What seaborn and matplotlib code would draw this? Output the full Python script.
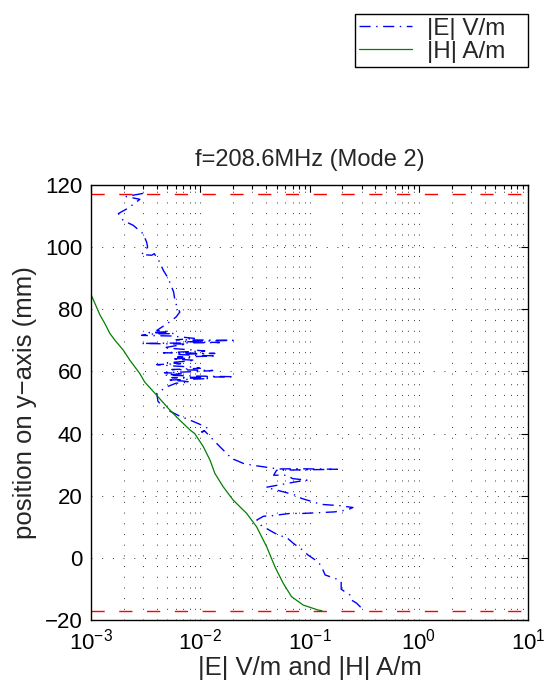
import numpy as np
import matplotlib
matplotlib.use("Agg")
import matplotlib.pyplot as plt
from matplotlib.ticker import LogLocator, FixedLocator, NullFormatter
import seaborn as sns

# |E| along the y-axis (mm) and its magnitude in V/m, in path order
e_pos = [117.3, 116.3, 115.4, 112.6, 110.8, 108.6, 107.0, 104.3, 101.6, 100.0,
         97.6, 97.4, 97.9, 96.5, 95.5, 92.5, 89.9, 85.6, 82.3, 80.0, 79.1, 77.5,
         75.2, 73.2, 72.8, 72.5, 72.2, 72.0, 71.6, 71.4, 70.6, 70.2, 70.0, 69.6,
         69.3, 69.0, 68.8, 68.2, 67.6, 67.2, 66.6, 66.0, 65.8, 65.5, 65.2, 65.0,
         64.6, 64.3, 64.0, 63.6, 63.2, 62.8, 62.5, 62.2, 61.8, 61.4, 61.0, 60.6,
         60.3, 60.0, 59.6, 59.3, 58.8, 58.5, 58.3, 58.0, 57.7, 57.2, 56.9, 56.6,
         56.2, 55.0, 52.9, 50.4, 48.1, 46.5, 45.6, 44.3, 43.0, 41.6, 40.5, 40.8,
         37.9, 35.7, 34.1, 32.0, 30.4, 29.8, 29.3, 28.6, 28.7, 28.5, 28.2, 26.6,
         26.6, 25.5, 25.0, 24.5, 22.7, 21.3, 20.2, 19.1, 17.2, 16.8, 16.2, 15.4,
         14.8, 14.6, 14.3, 14.3, 13.5, 13.4, 12.2, 11.1, 10.5, 8.7, 7.3, 6.5, 4.7,
         2.7, 0.9, -1.3, -2.9, -5.5, -6.8, -7.7, -10.1, -12.0, -13.6, -14.6,
         -16.2, -17.0]
e_mag = [0.0030, 0.0021, 0.0028, 0.0022, 0.00178, 0.00197, 0.00244, 0.0030, 0.00323, 0.0033,
         0.0029, 0.0036, 0.0038, 0.0040, 0.0042, 0.0046, 0.0051, 0.0057, 0.0059, 0.0063, 0.0065, 0.0060,
         0.0049, 0.0040, 0.0052, 0.0034, 0.0058, 0.0035, 0.0029, 0.0055, 0.0090, 0.0060, 0.0200, 0.0070,
         0.0150, 0.0029, 0.0075, 0.0058, 0.0046, 0.0065, 0.0110, 0.0046, 0.0136, 0.0060, 0.0086, 0.0140,
         0.0062, 0.0081, 0.0055, 0.0090, 0.0070, 0.0050, 0.0066, 0.0040, 0.0055, 0.0085, 0.0100, 0.0055,
         0.0130, 0.0100, 0.0047, 0.0070, 0.0048, 0.0095, 0.0204, 0.0055, 0.0120, 0.0050, 0.0070, 0.0080,
         0.0060, 0.0049, 0.0040, 0.0041, 0.0047, 0.0058, 0.0065, 0.0081, 0.0099, 0.0119, 0.0103, 0.0110,
         0.0132, 0.0152, 0.0169, 0.0194, 0.0248, 0.0303, 0.038, 0.052, 0.076, 0.180, 0.050, 0.047,
         0.062, 0.070, 0.095, 0.076, 0.040, 0.057, 0.074, 0.085, 0.129, 0.190, 0.250, 0.220,
         0.170, 0.133, 0.0875, 0.0664, 0.0437, 0.038, 0.033, 0.035, 0.036, 0.044, 0.052, 0.062, 0.071,
         0.085, 0.097, 0.120, 0.129, 0.139, 0.177, 0.195, 0.195, 0.235, 0.243, 0.270,
         0.300, 0.310]

# |H| along the y-axis (mm) and its magnitude in A/m
h_pos = [85.5, 78.1, 75.4, 72.2, 70.0, 66.8, 63.6, 59.3, 56.6, 52.3, 48.1, 44.3, 41.1,
         40.0, 35.7, 31.4, 27.2, 22.9, 18.6, 14.3, 10.0, 3.6, -2.9, -8.2, -12.5, -15.2,
         -16.8, -17.0]
h_mag = [0.00098, 0.00121, 0.00134, 0.00149, 0.00166, 0.00198, 0.00227, 0.0028, 0.0031,
         0.0040, 0.0051, 0.0065, 0.0081, 0.0089, 0.0107, 0.0123, 0.0136, 0.0162, 0.0200,
         0.0266, 0.0328, 0.0405, 0.0483, 0.0575, 0.0685, 0.0877, 0.120, 0.130]

# structure boundaries (mm)
boundaries = [117, -17]

y_ticks = [-20, 0, 20, 40, 60, 80, 100, 120]
x_limits = [1e-3, 1e1]

sns.set_theme(style="white")
plt.rcParams["font.family"] = ["Liberation Sans", "DejaVu Sans"]
plt.rcParams["mathtext.fontset"] = "custom"
plt.rcParams["mathtext.rm"] = "Liberation Sans"
plt.rcParams["mathtext.it"] = "Liberation Sans:italic"
plt.rcParams["mathtext.bf"] = "Liberation Sans:bold"

TICK_FS = 16
LABEL_FS = 18.5
TITLE_FS = 17
LEGEND_FS = 17.5

fig = plt.figure(figsize=(5.51, 6.94), dpi=100)
ax = fig.add_axes([91 / 551, 1 - 620 / 694, (528 - 91) / 551, (620 - 185) / 694])

sns.lineplot(x=e_mag, y=e_pos, sort=False, estimator=None, color=(0, 0, 1),
             linewidth=1.0, ax=ax, label="|E| V/m")
ax.lines[-1].set_dashes((8, 4, 1, 4))
sns.lineplot(x=h_mag, y=h_pos, sort=False, estimator=None, color=(0, 0.5, 0),
             linewidth=0.9, ax=ax, label="|H| A/m")

for b in boundaries:
    ax.axhline(b, color=(1, 0, 0), linewidth=1.0, dashes=(9.5, 10.5), zorder=1)

ax.set_xscale("log")
ax.set_xlim(*x_limits)
ax.set_ylim(-20, 120)
ax.yaxis.set_major_locator(FixedLocator(y_ticks))
ax.xaxis.set_major_locator(LogLocator(base=10, numticks=10))
ax.xaxis.set_minor_locator(LogLocator(base=10, subs=np.arange(2, 10), numticks=20))
ax.xaxis.set_minor_formatter(NullFormatter())

grid_kw = dict(color="black", linewidth=0.7, linestyle=(0, (1, 10)), alpha=0.8)
ax.grid(True, which="major", axis="both", **grid_kw)
ax.grid(True, which="minor", axis="x", **grid_kw)
ax.set_axisbelow(True)

ax.tick_params(axis="both", which="both", direction="in", top=True, right=True,
               labelsize=TICK_FS, colors="black", width=0.8)
ax.tick_params(axis="both", which="major", length=5, pad=6)
ax.tick_params(axis="x", which="minor", length=3)
for s in ax.spines.values():
    s.set_color("black")
    s.set_linewidth(1.0)

ax.set_title("f=208.6MHz (Mode 2)", fontsize=TITLE_FS, pad=14)
ax.set_xlabel("|E| V/m and |H| A/m", fontsize=LABEL_FS, labelpad=1)
ax.set_ylabel("position on y\u2212axis (mm)", fontsize=LABEL_FS, labelpad=6)

handles, labels = ax.get_legend_handles_labels()
ax.get_legend().remove()
# legend box spans a fixed width in the upper right of the figure
leg = fig.legend(handles, labels, loc="upper left", mode="expand",
                 bbox_to_anchor=(355 / 551, 1 - 66 / 694, 173 / 551, 52 / 694),
                 fontsize=LEGEND_FS, frameon=True, fancybox=False, framealpha=1,
                 edgecolor="black", borderaxespad=0, handlelength=2.2,
                 labelspacing=0.05, borderpad=0.15, handletextpad=0.6)
leg.get_frame().set_linewidth(1.0)

fig.savefig("out.png", dpi=100, facecolor="white")
